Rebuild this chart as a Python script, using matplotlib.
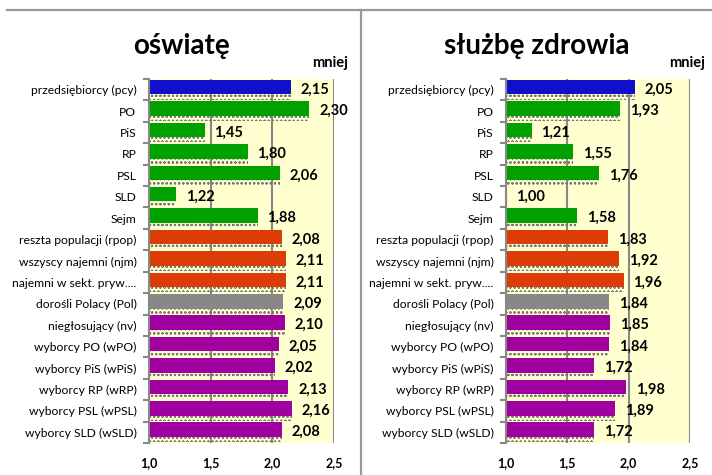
import matplotlib
matplotlib.use("Agg")
import matplotlib.pyplot as plt
from matplotlib.lines import Line2D

plt.rcParams['font.family'] = ['Lato', 'DejaVu Sans']
plt.rcParams['hatch.linewidth'] = 0.5

categories = ["przedsiębiorcy (pcy)", "PO", "PiS", "RP", "PSL", "SLD", "Sejm",
              "reszta populacji (rpop)", "wszyscy najemni (njm)", "najemni w sekt. pryw....",
              "dorośli Polacy (Pol)", "niegłosujący (nv)", "wyborcy PO (wPO)",
              "wyborcy PiS (wPiS)", "wyborcy RP (wRP)", "wyborcy PSL (wPSL)", "wyborcy SLD (wSLD)"]
oswiate = [2.15, 2.30, 1.45, 1.80, 2.06, 1.22, 1.88, 2.08, 2.11, 2.11,
           2.09, 2.10, 2.05, 2.02, 2.13, 2.16, 2.08]
zdrowie = [2.05, 1.93, 1.21, 1.55, 1.76, 1.00, 1.58, 1.83, 1.92, 1.96,
           1.84, 1.85, 1.84, 1.72, 1.98, 1.89, 1.72]
groups = ["pcy", "party", "party", "party", "party", "party", "party",
          "emp", "emp", "emp", "pol", "voter", "voter", "voter", "voter", "voter", "voter"]
group_colors = {"pcy": "#1010CC", "party": "#00A000", "emp": "#DC3C08",
                "pol": "#888888", "voter": "#A000A0"}
titles = ["oświatę", "służbę zdrowia"]
xticks = [1.0, 1.5, 2.0, 2.5]
xticklabels = ["1,0", "1,5", "2,0", "2,5"]

W, H = 712, 475
fig = plt.figure(figsize=(W / 100, H / 100), dpi=100)

# frame lines
fig.add_artist(Line2D([7 / W, 1], [1 - 10 / H, 1 - 10 / H], color="#999999", lw=1.6))
fig.add_artist(Line2D([361 / W, 361 / W], [0, 1 - 10 / H], color="#999999", lw=1.6))

panels = [
    dict(x0=149, x1=334, vals=oswiate, title=titles[0], tcx=182, mniej_r=348),
    dict(x0=506, x1=690, vals=zdrowie, title=titles[1], tcx=537, mniej_r=705),
]
top, bot = 79, 443
n = len(categories)
colors = [group_colors[g] for g in groups]

for p in panels:
    ax = fig.add_axes([p["x0"] / W, 1 - bot / H, (p["x1"] - p["x0"]) / W, (bot - top) / H])
    ax.set_facecolor("#FFFFD0")
    ys = list(range(n))
    vals = p["vals"]
    widths = [v - 1.0 for v in vals]
    ax.grid(axis="x", color="#888888", lw=1.5, zorder=1)
    ax.set_axisbelow(True)
    # dotted shadow bars
    ax.barh([y + 0.34 for y in ys], widths, left=1.0, height=0.24,
            color="none", edgecolor="#777777", hatch="oooo", linewidth=0, zorder=2)
    ax.barh([y - 0.12 for y in ys], widths, left=1.0, height=0.68,
            color=colors, edgecolor="none", zorder=3)
    for y, v in zip(ys, vals):
        ax.annotate(f"{v:.2f}".replace(".", ","), xy=(v, y), xytext=(7, 0),
                    textcoords="offset points", va="center", ha="left",
                    fontsize=10.5, fontweight="bold", color="black",
                    annotation_clip=False, zorder=5)
    ax.set_xlim(1.0, 2.5)
    ax.set_ylim(n - 0.5, -0.5)
    ax.set_xticks(xticks)
    ax.set_xticklabels(xticklabels, fontsize=9, fontweight="bold")
    ax.tick_params(axis="x", length=0, pad=10)
    ax.set_yticks(ys)
    ax.set_yticklabels(categories, fontsize=8.7)
    ax.tick_params(axis="y", which="major", length=0, pad=9)
    ax.set_yticks([y + 0.5 for y in range(-1, n)], minor=True)
    ax.tick_params(axis="y", which="minor", length=4, width=1.5, color="#888888")
    for s in ["top", "right", "bottom"]:
        ax.spines[s].set_visible(False)
    ax.spines["left"].set_color("#888888")
    ax.spines["left"].set_linewidth(1.5)
    ax.spines["left"].set_zorder(4)
    fig.text(p["tcx"] / W, 1 - 46 / H, p["title"], fontsize=20, fontweight="bold",
             ha="center", va="center")
    fig.text(p["mniej_r"] / W, 1 - 63 / H, "mniej", fontsize=10.5, fontweight="bold",
             ha="right", va="center")

fig.savefig("out.png", dpi=100)
